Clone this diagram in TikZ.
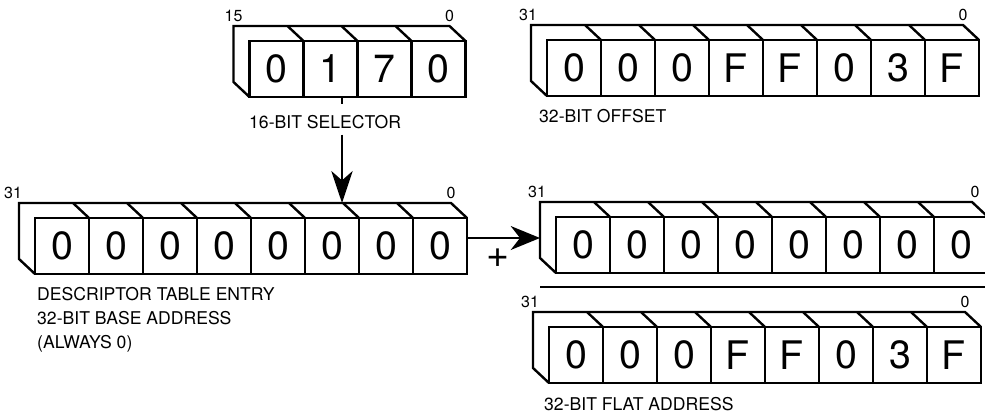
\documentclass[tikz,border=0pt]{standalone}
\usepackage{fontspec}
\setmainfont{TeX Gyre Heros}
\usetikzlibrary{arrows.meta}

\begin{document}
\begin{tikzpicture}[x=0.75pt,y=-0.75pt,line width=1.8pt,
	cell/.style={minimum width=40.5pt,minimum height=42pt,inner sep=0pt,outer sep=0pt,draw=black,font=\fontsize{29.5}{29.5}\selectfont},
	face/.style={draw=black,line width=1.8pt},
	bitnum/.style={anchor=south,inner sep=2pt,font=\fontsize{12}{14}\selectfont},
	caption/.style={inner sep=0pt,align=left,font=\fontsize{13.2}{18}\selectfont},
	wire/.style={line width=1.2pt}]
	\useasboundingbox (0,0) rectangle (985,414);
	\clip (0,0) rectangle (985,414);

	% selector
	\node [cell] at (276.5,69) (sel1) {0};
	\node [cell,anchor=west] at (sel1.east) (sel2) {1};
	\node [cell,anchor=west] at (sel2.east) (sel3) {7};
	\node [cell,anchor=west] at (sel3.east) (sel4) {0};
	\draw [face] (sel1.south west) -- ++(-16,-15) -- ([shift={(-16,-15)}]sel1.north west) -- ([shift={(-16,-15)}]sel4.north east) -- (sel4.north east);
	\foreach \n in {2,3,4} \draw [face] (sel\n.north west) -- +(-16,-15);
	\node [bitnum] (selHi) at ([shift={(-16,-15)}]sel1.north west) {15};
	\node [bitnum] (selLo) at ([shift={(-16,-15)}]sel4.north east) {0};
	\node [caption,anchor=base west] at (248,128) (selText) {16-BIT SELECTOR};

	% offset
	\node [cell] at (574,68) (off1) {0};
	\node [cell,anchor=west] at (off1.east) (off2) {0};
	\node [cell,anchor=west] at (off2.east) (off3) {0};
	\node [cell,anchor=west] at (off3.east) (off4) {F};
	\node [cell,anchor=west] at (off4.east) (off5) {F};
	\node [cell,anchor=west] at (off5.east) (off6) {0};
	\node [cell,anchor=west] at (off6.east) (off7) {3};
	\node [cell,anchor=west] at (off7.east) (off8) {F};
	\draw [face] (off1.south west) -- ++(-16,-15) -- ([shift={(-16,-15)}]off1.north west) -- ([shift={(-16,-15)}]off8.north east) -- (off8.north east);
	\foreach \n in {2,...,8} \draw [face] (off\n.north west) -- +(-16,-15);
	\node [bitnum] (offHi) at ([shift={(-19,-15)}]off1.north west) {31};
	\node [bitnum] (offLo) at ([shift={(-16,-15)}]off8.north east) {0};
	\node [caption,anchor=base west] at (538,122) (offText) {32-BIT OFFSET};

	% descriptor base
	\node [cell] at (62,246) (base1) {0};
	\node [cell,anchor=west] at (base1.east) (base2) {0};
	\node [cell,anchor=west] at (base2.east) (base3) {0};
	\node [cell,anchor=west] at (base3.east) (base4) {0};
	\node [cell,anchor=west] at (base4.east) (base5) {0};
	\node [cell,anchor=west] at (base5.east) (base6) {0};
	\node [cell,anchor=west] at (base6.east) (base7) {0};
	\node [cell,anchor=west] at (base7.east) (base8) {0};
	\draw [face] (base1.south west) -- ++(-16,-15) -- ([shift={(-16,-15)}]base1.north west) -- ([shift={(-16,-15)}]base8.north east) -- (base8.north east);
	\foreach \n in {2,...,8} \draw [face] (base\n.north west) -- +(-16,-15);
	\node [bitnum] (baseHi) at ([shift={(-22,-15)}]base1.north west) {31};
	\node [bitnum] (baseLo) at ([shift={(-16,-15)}]base8.north east) {0};
	\node [caption,anchor=north west] at (36,286) (baseText) {DESCRIPTOR TABLE ENTRY\\32-BIT BASE ADDRESS\\(ALWAYS 0)};
	\coordinate (baseTop) at ([shift={(-16,-15)}]base1.north west);

	% selector picks the entry
	\coordinate (tap) at (342,0);
	\draw [wire,shorten >=7.5pt] (sel2.south -| tap) -- (selText.north -| tap);
	\draw [wire,-{Stealth[length=24pt,width=16pt,inset=7pt]},shorten <=3.75pt] (selText.south -| tap) -- (tap |- baseTop);

	% base + offset
	\node [cell] at (583,245) (sum1) {0};
	\node [cell,anchor=west] at (sum1.east) (sum2) {0};
	\node [cell,anchor=west] at (sum2.east) (sum3) {0};
	\node [cell,anchor=west] at (sum3.east) (sum4) {0};
	\node [cell,anchor=west] at (sum4.east) (sum5) {0};
	\node [cell,anchor=west] at (sum5.east) (sum6) {0};
	\node [cell,anchor=west] at (sum6.east) (sum7) {0};
	\node [cell,anchor=west] at (sum7.east) (sum8) {0};
	\draw [face] (sum1.south west) -- ++(-16,-15) -- ([shift={(-16,-15)}]sum1.north west) -- ([shift={(-16,-15)}]sum8.north east) -- (sum8.north east);
	\foreach \n in {2,...,8} \draw [face] (sum\n.north west) -- +(-16,-15);
	\node [bitnum] (sumHi) at ([shift={(-19,-15)}]sum1.north west) {31};
	\node [bitnum] (sumLo) at ([shift={(-13,-15)}]sum8.north east) {0};
	\coordinate (sumSide) at ([shift={(-16,-15)}]sum1.south west);
	\draw [wire,-{Stealth[length=22pt,width=18pt,inset=7pt]}] ([yshift=6pt]base8.east) -- ([yshift=6pt]base8.east -| sumSide);
	\node [inner sep=0pt,font=\fontsize{29.5}{29.5}\selectfont] (plus) at (498,258) {+};
	\draw [face] ([shift={(-16,14)}]sum1.south west) -- ++(450,0);

	% flat address
	\node [cell] at (576,355) (flat1) {0};
	\node [cell,anchor=west] at (flat1.east) (flat2) {0};
	\node [cell,anchor=west] at (flat2.east) (flat3) {0};
	\node [cell,anchor=west] at (flat3.east) (flat4) {F};
	\node [cell,anchor=west] at (flat4.east) (flat5) {F};
	\node [cell,anchor=west] at (flat5.east) (flat6) {0};
	\node [cell,anchor=west] at (flat6.east) (flat7) {3};
	\node [cell,anchor=west] at (flat7.east) (flat8) {F};
	\draw [face] (flat1.south west) -- ++(-16,-15) -- ([shift={(-16,-15)}]flat1.north west) -- ([shift={(-16,-15)}]flat8.north east) -- (flat8.north east);
	\foreach \n in {2,...,8} \draw [face] (flat\n.north west) -- +(-16,-15);
	\node [bitnum] (flatHi) at ([shift={(-19,-15)}]flat1.north west) {31};
	\node [bitnum] (flatLo) at ([shift={(-16,-15)}]flat8.north east) {0};
	\node [caption,anchor=base west] at (543,410) (flatText) {32-BIT FLAT ADDRESS};
\end{tikzpicture}
\end{document}
